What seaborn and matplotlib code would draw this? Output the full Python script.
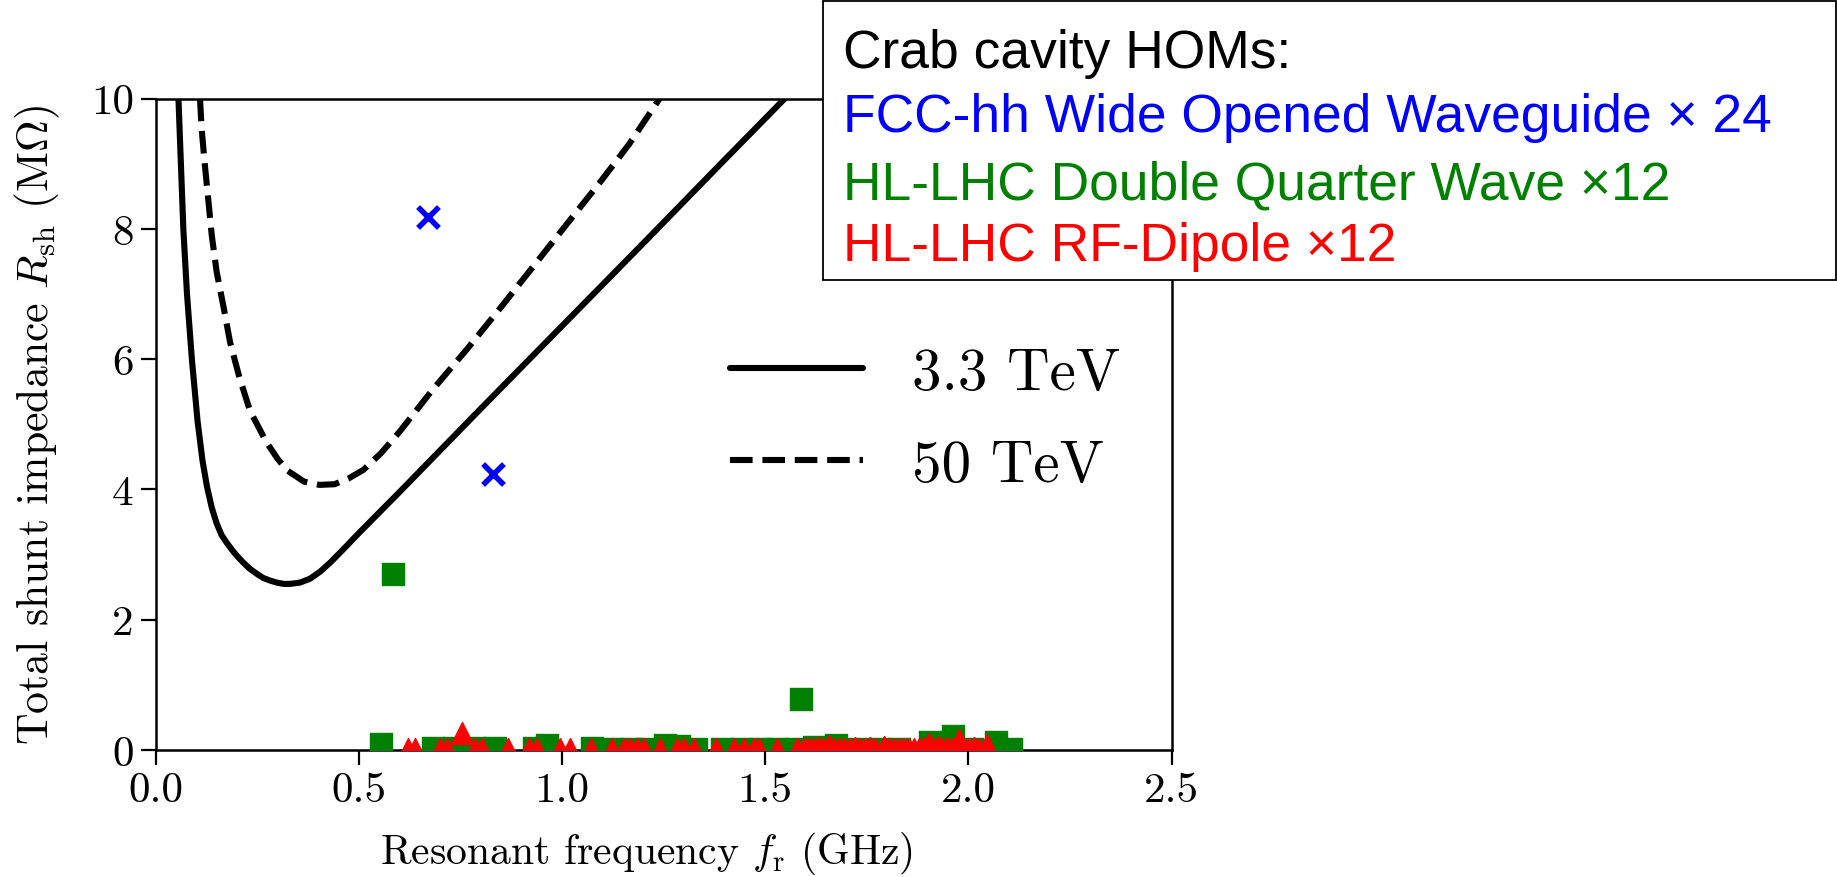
import matplotlib
matplotlib.use("Agg")
import matplotlib.pyplot as plt
import seaborn as sns
from matplotlib.patches import Rectangle

# Instability threshold curves (resonant frequency in GHz, shunt impedance in MOhm)
thr_33_f = [0.056, 0.062, 0.068, 0.077, 0.089, 0.103, 0.115, 0.126, 0.138, 0.150,
            0.162, 0.175, 0.188, 0.200, 0.215, 0.232, 0.250, 0.265, 0.282, 0.298,
            0.315, 0.331, 0.355, 0.380, 0.405, 0.430, 0.460, 0.500, 0.600, 0.800,
            1.000, 1.200, 1.400, 1.548]
thr_33_r = [10.0, 9.0, 8.0, 7.0, 6.0, 5.05, 4.45, 4.05, 3.72, 3.48,
            3.30, 3.18, 3.07, 2.98, 2.88, 2.78, 2.70, 2.64, 2.60, 2.57,
            2.55, 2.55, 2.57, 2.63, 2.74, 2.88, 3.07, 3.33, 3.96, 5.24,
            6.51, 7.78, 9.06, 10.0]

thr_50_f = [0.109, 0.113, 0.121, 0.130, 0.138, 0.150, 0.167, 0.183, 0.206, 0.232,
            0.272, 0.300, 0.324, 0.365, 0.403, 0.440, 0.475, 0.511, 0.555, 0.602,
            0.680, 0.767, 0.850, 0.930, 1.010, 1.094, 1.165, 1.240]
thr_50_r = [10.0, 9.54, 8.98, 8.41, 7.90, 7.34, 6.80, 6.26, 5.72, 5.21,
            4.73, 4.47, 4.29, 4.12, 4.07, 4.08, 4.17, 4.30, 4.56, 4.90,
            5.52, 6.16, 6.80, 7.43, 8.06, 8.72, 9.30, 10.0]

# Crab cavity HOMs
wow_f = [0.670, 0.831]
wow_r = [8.18, 4.23]

dqw_f = [0.554, 0.585, 0.683, 0.735, 0.785, 0.836, 0.930, 0.962, 1.073, 1.120,
         1.170, 1.210, 1.254, 1.288, 1.329, 1.394, 1.440, 1.490, 1.530, 1.575,
         1.587, 1.620, 1.673, 1.730, 1.780, 1.830, 1.905, 1.963, 2.010, 2.067,
         2.105]
dqw_r = [0.09, 2.70, 0.03, 0.03, 0.03, 0.03, 0.03, 0.08, 0.03, 0.02,
         0.02, 0.02, 0.07, 0.06, 0.02, 0.02, 0.02, 0.02, 0.02, 0.02,
         0.78, 0.04, 0.07, 0.02, 0.02, 0.02, 0.12, 0.21, 0.02, 0.13,
         0.02]

rfd_f = [0.622, 0.639, 0.700, 0.717, 0.754, 0.786, 0.803, 0.868, 0.918, 0.938,
         0.996, 1.020, 1.070, 1.123, 1.152, 1.168, 1.185, 1.201, 1.242, 1.283,
         1.300, 1.324, 1.378, 1.423, 1.447, 1.472, 1.484, 1.530, 1.579, 1.595,
         1.605, 1.618, 1.630, 1.642, 1.657, 1.670, 1.682, 1.695, 1.708, 1.720,
         1.733, 1.746, 1.758, 1.770, 1.792, 1.805, 1.817, 1.830, 1.842, 1.855,
         1.867, 1.879, 1.890, 1.903, 1.914, 1.924, 1.936, 1.948, 1.960, 1.977,
         1.990, 2.002, 2.014, 2.026, 2.045]
rfd_r = [0.01, 0.01, 0.02, 0.02, 0.26, 0.02, 0.01, 0.01, 0.02, 0.01,
         0.02, 0.01, 0.01, 0.01, 0.01, 0.01, 0.01, 0.01, 0.01, 0.01,
         0.01, 0.01, 0.01, 0.01, 0.01, 0.01, 0.01, 0.01, 0.01, 0.01,
         0.02, 0.01, 0.03, 0.02, 0.06, 0.01, 0.02, 0.01, 0.02, 0.03,
         0.02, 0.01, 0.03, 0.02, 0.05, 0.02, 0.01, 0.02, 0.02, 0.01,
         0.02, 0.02, 0.03, 0.09, 0.01, 0.05, 0.02, 0.03, 0.02, 0.15,
         0.02, 0.01, 0.03, 0.02, 0.07]

x_ticks = [0.0, 0.5, 1.0, 1.5, 2.0, 2.5]
y_ticks = [0, 2, 4, 6, 8, 10]

box_lines = ["Crab cavity HOMs:",
             "FCC-hh Wide Opened Waveguide \u00d7 24",
             "HL-LHC Double Quarter Wave \u00d712",
             "HL-LHC RF-Dipole \u00d712"]
box_colors = ["black", "blue", "green", "red"]

sns.set_style("ticks")
plt.rcParams.update({
    "font.family": "cmr10",
    "mathtext.fontset": "cm",
    "axes.formatter.use_mathtext": True,
    "axes.unicode_minus": False,
    "text.color": "black",
    "axes.labelcolor": "black",
    "xtick.color": "black",
    "ytick.color": "black",
    "axes.edgecolor": "black",
})

W, H = 1837, 878
fig = plt.figure(figsize=(W / 100, H / 100), dpi=100)
ax = fig.add_axes([155.7 / W, 1 - 751 / H, (1171.6 - 155.7) / W, (751 - 99.6) / H])

sns.lineplot(x=thr_33_f, y=thr_33_r, ax=ax, color="black", linewidth=4.4,
             sort=False, estimator=None, label="3.3 TeV")
sns.lineplot(x=thr_50_f, y=thr_50_r, ax=ax, color="black", linewidth=4.4,
             linestyle="--", sort=False, estimator=None, label="50 TeV")

sns.scatterplot(x=wow_f, y=wow_r, ax=ax, marker="x", s=225, color="blue",
                linewidth=4, legend=False, zorder=3)
sns.scatterplot(x=dqw_f, y=dqw_r, ax=ax, marker="s", s=240, color="green",
                edgecolor="green", linewidth=1, legend=False, zorder=3)
sns.scatterplot(x=rfd_f, y=rfd_r, ax=ax, marker="^", s=250, color="red",
                edgecolor="red", linewidth=1, legend=False, zorder=4)

ax.set_xlim(0, 2.5)
ax.set_ylim(0, 10)
ax.set_xticks(x_ticks)
ax.set_xticklabels([f"{t:.1f}" for t in x_ticks])
ax.set_yticks(y_ticks)
ax.set_yticklabels([str(t) for t in y_ticks])
ax.tick_params(direction="out", length=10.8, width=1.6, labelsize=31, pad=5,
               colors="black")
for sp in ax.spines.values():
    sp.set_linewidth(1.8)
    sp.set_color("black")

ax.set_xlabel(r"Resonant frequency $f_\mathrm{r}$ (GHz)", fontsize=30)
ax.set_ylabel(r"Total shunt impedance $R_\mathrm{sh}$ (M$\Omega$)", fontsize=31.5)
ax.xaxis.set_label_coords(0.483, -0.122)
ax.yaxis.set_label_coords(-0.092, 0.5)

ax.legend(loc="upper left", bbox_to_anchor=(730 / W, 1 - 348 / H),
          bbox_transform=fig.transFigure, frameon=False, fontsize=42.5,
          handlelength=2.25, handletextpad=0.84, labelspacing=0.65,
          borderpad=0, borderaxespad=0)

# Framed annotation listing the HOM sets
fig.add_artist(Rectangle((823 / W, 1 - 281 / H), (1836 - 823) / W, 279 / H,
                         transform=fig.transFigure, facecolor="white",
                         edgecolor="black", linewidth=1.3, zorder=5))
baselines = [68, 132, 199, 261]
for txt, col, yb in zip(box_lines, box_colors, baselines):
    fig.text(843 / W, 1 - yb / H, txt, color=col, fontsize=38.4,
             family="Liberation Sans", va="baseline", ha="left", zorder=6)

fig.savefig("out.png", dpi=100)
